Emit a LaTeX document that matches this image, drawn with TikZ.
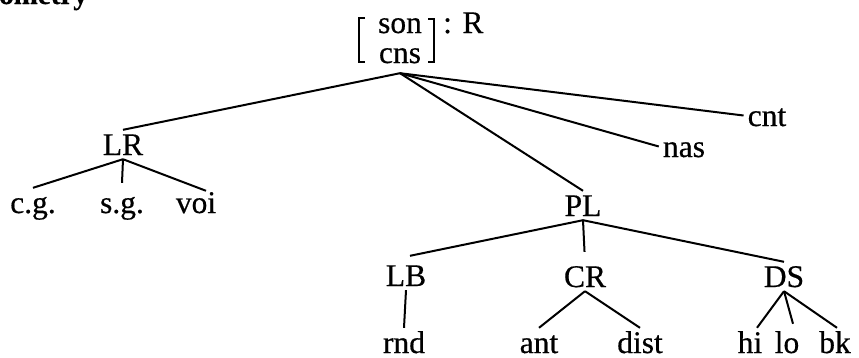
\documentclass[tikz,border=0pt]{standalone}
\usepackage{fontspec}
\setmainfont{Liberation Serif}[FakeBold=0.5]
\begin{document}
\begin{tikzpicture}[x=1pt,y=-1pt,
  lab/.style={anchor=base, inner sep=4pt, text height=21pt, text depth=0pt,
              font=\fontsize{31.5}{36}\selectfont},
  edge/.style={line width=2pt},
  brk/.style={line width=1.6pt, line cap=butt}]
\useasboundingbox (0,0) rectangle (859,357);
\clip (0,0) rectangle (859,357);
% clipped heading fragment
\node[anchor=base east, inner sep=0pt, font=\fontsize{29}{34}\selectfont\bfseries] (head) at (88,4) {geometry};
% root
\node[lab] (son) at (400,33) {son};
\node[lab] (cns) at (400,63) {cns};
\node[lab, anchor=base west, inner sep=0pt] (colR) at (443,33) {: R};
\draw[brk] (365,18) -- (359,18) -- (359,62) -- (365,62);
\draw[brk] (428,19) -- (434,19) -- (434,62) -- (428,62);
\coordinate (root) at ([yshift=-6pt]cns.south);
% level 1
\node[lab] (LR) at (123,155) {LR};
\node[lab] (PL) at (583,216) {PL};
\node[lab] (nas) at (684,157) {nas};
\node[lab] (cnt) at (767,126) {cnt};
% LR children
\node[lab] (cg) at (33,213) {c.g.};
\node[lab] (sg) at (122,213) {s.g.};
\node[lab] (voi) at (196,213) {voi};
% PL children
\node[lab] (LB) at (406,286) {LB};
\node[lab] (CR) at (585,287) {CR};
\node[lab] (DS) at (784,287) {DS};
% bottom
\node[lab] (rnd) at (404,353) {rnd};
\node[lab] (ant) at (539,353) {ant};
\node[lab] (dist) at (640,353) {dist};
\node[lab] (hi) at (750,353) {hi};
\node[lab] (lo) at (787,353) {lo};
\node[lab] (bk) at (835,353) {bk};
% edges
\draw[edge] (root) -- (LR.north);
\draw[edge] (root) -- (PL.north);
\draw[edge] (root) -- (nas.west);
\draw[edge] (root) -- (cnt.west);
\draw[edge] (LR.south) -- (cg.north);
\draw[edge] (LR.south) -- ([yshift=5pt]sg.north);
\draw[edge] (LR.south) -- ([xshift=10pt,yshift=-3pt]voi.north);
\draw[edge] (PL.south) -- ([xshift=4pt,yshift=5pt]LB.north);
\draw[edge, shorten >=10pt] (PL.south) -- (CR.north);
\draw[edge] (PL.south) -- (DS.north);
\draw[edge] (LB.south) -- (rnd.north);
\draw[edge] (CR.south) -- (ant.north);
\draw[edge] (CR.south) -- (dist.north);
\draw[edge] (DS.south) -- ([xshift=7pt]hi.north);
\draw[edge] (DS.south) -- ([xshift=6pt,yshift=4pt]lo.north);
\draw[edge] (DS.south) -- ([xshift=2pt]bk.north);
\end{tikzpicture}
\end{document}
